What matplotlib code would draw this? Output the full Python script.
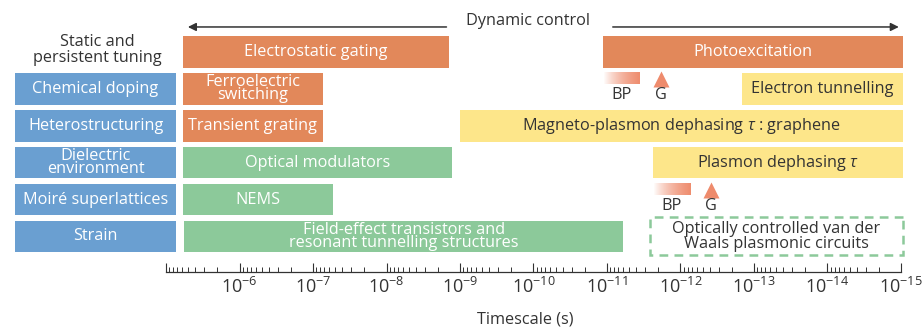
import numpy as np
import matplotlib
matplotlib.use('Agg')
import matplotlib.pyplot as plt
from matplotlib.colors import LinearSegmentedColormap

plt.rcParams['font.family'] = ['Open Sans', 'DejaVu Sans']
plt.rcParams['mathtext.fontset'] = 'custom'
plt.rcParams['mathtext.rm'] = 'Open Sans'
plt.rcParams['mathtext.it'] = 'Open Sans:italic'

BLUE = '#6a9fd1'
ORANGE = '#e2885a'
GREEN = '#8cc99a'
YELLOW = '#fde68a'
SALMON = '#ee8b6c'
DARK = '#333333'
FS = 11.7

# categories of static tuning (rows 1..5)
categories = ['Chemical doping', 'Heterostructuring', 'Dielectric\nenvironment',
              'Moiré superlattices', 'Strain']
category_span = (1.13e-3, 7.3e-6)

# mechanisms: label, row, slow end (s), fast end (s), group
mech_labels = ['Electrostatic gating', 'Photoexcitation', 'Ferroelectric\nswitching',
               'Electron tunnelling', 'Transient grating',
               r'Magneto-plasmon dephasing $\tau$ : graphene', 'Optical modulators',
               r'Plasmon dephasing $\tau$', 'NEMS',
               'Field-effect transistors and\nresonant tunnelling structures']
mech_rows = [0, 0, 1, 1, 2, 2, 3, 3, 4, 5]
mech_start = [5.9e-6, 1.13e-11, 5.9e-6, 1.46e-13, 5.9e-6, 1.0e-9, 5.9e-6, 2.4e-12, 5.9e-6, 5.7e-6]
mech_end = [1.4e-9, 9.4e-16, 7.3e-8, 9.4e-16, 7.3e-8, 9.4e-16, 1.3e-9, 9.4e-16, 5.4e-8, 6.0e-12]
mech_group = ['orange', 'orange', 'orange', 'yellow', 'orange', 'yellow', 'green',
              'yellow', 'green', 'green']

# black phosphorus (BP) ranges and graphene (G) points
bp_rows = [1, 4]
bp_start = [1.13e-11, 2.4e-12]
bp_end = [3.5e-12, 7.2e-13]
g_vals = [1.86e-12, 3.8e-13]

future_label = 'Optically controlled van der\nWaals plasmonic circuits'
future_span = (2.6e-12, 9.5e-16)

dynamic_left = (1.4e-9, 5.5e-6)
dynamic_right = (9.1e-12, 9.8e-16)

colors = {'orange': ORANGE, 'yellow': YELLOW, 'green': GREEN}
textcol = {'orange': 'white', 'yellow': DARK, 'green': 'white'}

fig = plt.figure(figsize=(9.23, 3.29), dpi=100)
ax = fig.add_axes([0, 57.3 / 329, 1, 1 - 57.3 / 329])
ax.set_xscale('log')
ax.set_xlim(10 ** -2.741, 10 ** -15.30)
ax.set_ylim(5.954, -1.409)

H = 0.855

def gmean(a, b):
    return np.sqrt(a * b)

# category boxes
for i, lab in enumerate(categories):
    r = i + 1
    a, b = category_span
    ax.barh(r, abs(a - b), left=min(a, b), height=H, color=BLUE, lw=0)
    ax.text(gmean(a, b), r, lab, ha='center', va='center', color='white',
            fontsize=FS, linespacing=0.75)

ax.text(10 ** -4.06, -0.05, 'Static and\npersistent tuning', ha='center', va='center',
        color=DARK, fontsize=FS, linespacing=0.95)

# mechanisms
for lab, r, a, b, g in zip(mech_labels, mech_rows, mech_start, mech_end, mech_group):
    ax.barh(r, abs(a - b), left=min(a, b), height=H, color=colors[g], lw=0)
    ax.text(gmean(a, b), r, lab, ha='center', va='center', color=textcol[g],
            fontsize=FS, linespacing=0.75)

# BP gradients and G markers
cmap = LinearSegmentedColormap.from_list('bp', ['white', SALMON])
grad = np.linspace(0, 1, 256).reshape(1, -1)
for r, a, b, gv in zip(bp_rows, bp_start, bp_end, g_vals):
    yc = r - 0.29
    ax.imshow(grad, cmap=cmap, aspect='auto', interpolation='bilinear',
              extent=[a, b, yc + 0.17, yc - 0.17], zorder=2)
    ax.plot([gv], [yc + 0.02], marker='^', markersize=11, color=SALMON, mec='none', zorder=3)
    ax.text(gmean(a, b), r + 0.17, 'BP', ha='center', va='center', color=DARK, fontsize=FS)
    ax.text(gv, r + 0.17, 'G', ha='center', va='center', color=DARK, fontsize=FS)

# future dashed box
a, b = future_span
ax.barh(4.99, abs(a - b), left=min(a, b), height=1.03, facecolor='none',
        edgecolor=GREEN, lw=1.8, ls=(0, (3.5, 2.5)))
ax.text(gmean(a, b), 4.99, future_label, ha='center', va='center', color=DARK,
        fontsize=FS, linespacing=0.9)

# dynamic control arrows
ax.annotate('', xy=(dynamic_left[1], -0.678), xytext=(dynamic_left[0], -0.678),
            arrowprops=dict(arrowstyle='-|>', color=DARK, lw=1.1, mutation_scale=12))
ax.annotate('', xy=(dynamic_right[1], -0.678), xytext=(dynamic_right[0], -0.678),
            arrowprops=dict(arrowstyle='-|>', color=DARK, lw=1.1, mutation_scale=12))
ax.text(10 ** -9.92, -0.84, 'Dynamic control', ha='center', va='center', color=DARK,
        fontsize=FS)

ax.set_xlim(10 ** -2.741, 10 ** -15.30)
ax.set_ylim(5.954, -1.409)

# axis
for s in ['top', 'left', 'right']:
    ax.spines[s].set_visible(False)
ax.spines['bottom'].set_bounds(1e-5, 1e-15)
ax.spines['bottom'].set_color(DARK)
ax.spines['bottom'].set_linewidth(0.9)
exps = list(range(-5, -16, -1))
ax.set_xticks([10.0 ** e for e in exps])
ax.set_xticklabels([''] + [r'$10^{%d}$' % e for e in exps[1:]])
minor = [k * 10.0 ** e for e in range(-15, -5) for k in range(2, 10)]
ax.set_xticks(minor, minor=True)
ax.xaxis.set_minor_formatter(matplotlib.ticker.NullFormatter())
ax.tick_params(axis='x', which='major', direction='in', length=6.5, width=0.8,
               color=DARK, labelsize=13, labelcolor=DARK, pad=4)
ax.tick_params(axis='x', which='minor', direction='in', length=3.5, width=0.7, color=DARK)
ax.set_yticks([])
fig.text(525 / 923, 1 - 320 / 329, 'Timescale (s)', ha='center', va='center',
         color=DARK, fontsize=FS)

fig.savefig('out.png', dpi=100)
